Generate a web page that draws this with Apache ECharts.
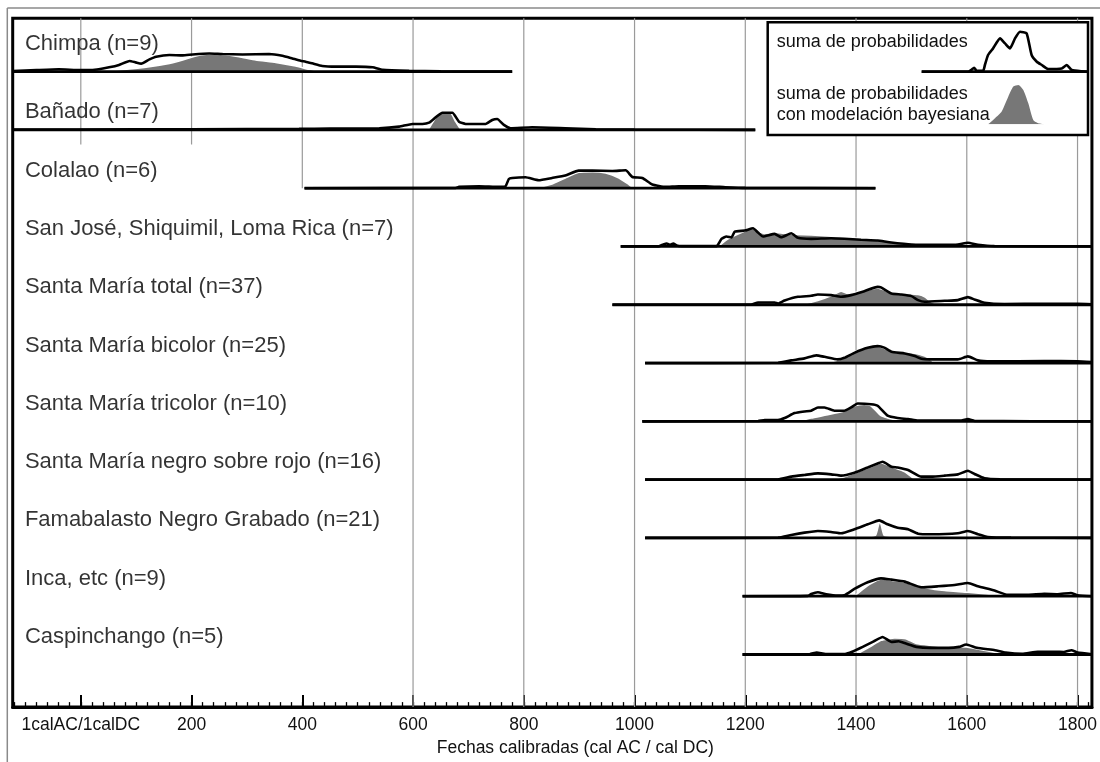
<!DOCTYPE html>
<html>
<head>
<meta charset="utf-8">
<title>Fechas calibradas</title>
<script src="https://cdn.jsdelivr.net/npm/echarts@6/dist/echarts.min.js"></script>
<style>
  html, body { margin: 0; padding: 0; background: #fff; }
  #chart { width: 1100px; height: 762px; }
</style>
</head>
<body>
<div id="chart"></div>
<script>
// nombres de las filas (de arriba a abajo)
var rowNames = [
  'Chimpa (n=9)',
  'Bañado (n=7)',
  'Colalao (n=6)',
  'San José, Shiquimil, Loma Rica (n=7)',
  'Santa María total (n=37)',
  'Santa María bicolor (n=25)',
  'Santa María tricolor (n=10)',
  'Santa María negro sobre rojo (n=16)',
  'Famabalasto Negro Grabado (n=21)',
  'Inca, etc (n=9)',
  'Caspinchango (n=5)'
];

// [año cal, densidad relativa]
var chimpaSum = [[-123,0.5],[-80,1.5],[-40,2.3],[0,1.5],[25,1.8],[51,4.3],[69,6.7],[88,10.7],[99,9.3],[109,8],[124,12.3],[136,15],[160,16.7],[184,16.3],[202,17.3],[232,18.3],[256,17.7],[292,17.3],[340,17.7],[364,16],[382,13.3],[397,11],[406,10],[418,8.3],[436,5.7],[460,5],[497,5],[527,4.3],[545,1.7],[593,0.7],[650,0.3],[779,0]];
var chimpaBayes = [[33,0],[69,1.7],[124,5],[160,8.3],[184,11.7],[208,15.7],[232,17.7],[256,17.3],[286,15],[316,11.7],[352,9.3],[388,5.7],[412,2.3],[430,0.7],[442,0]];

var banadoSum = [[-123,0.3],[100,0.5],[300,0.8],[394,1],[450,1.3],[539,1.7],[575,3.3],[599,6],[617,6],[629,7.3],[641,12.7],[653,17.3],[671,17.3],[683,8.3],[695,6],[731,6],[743,10],[752,11],[764,5],[776,1.7],[815,2.7],[875,1.7],[930,0.7],[1000,0.3],[1218,0]];
var banadoBayes = [[627,0],[638,10],[647,16.7],[668,16.7],[677,8.3],[686,0.7],[688,0]];

var colalaoSum = [[404,0],[677,0.3],[683,1.3],[719,2],[755,1.3],[767,2],[773,9.3],[779,10.3],[803,11],[827,8],[851,10.3],[875,12.7],[899,17.7],[924,17.7],[960,17.3],[984,18],[996,11.3],[1014,10.3],[1032,3.7],[1056,1.3],[1080,2],[1128,2],[1164,1],[1200,0.3],[1435,0]];
var colalaoBayes = [[821,0],[851,4.3],[875,10.3],[899,16],[924,16.7],[948,15.3],[972,10.3],[990,3.7],[999,0]];

var sanJoseSum = [[975,0],[1043,0],[1052,2],[1058,3],[1064,1.5],[1070,3],[1076,1],[1085,0.3],[1148,0.3],[1157,7.7],[1166,10],[1175,9],[1181,15],[1199,16],[1214,18.3],[1223,14],[1232,10],[1253,12.7],[1265,9.3],[1283,13.3],[1295,8.7],[1319,7.7],[1355,8.3],[1379,7.7],[1409,6.7],[1439,6],[1460,4.3],[1500,2],[1560,1.7],[1584,2],[1602,3.7],[1620,1.7],[1650,0.3],[1826,0]];
var sanJoseBayes = [[1151,0],[1169,7.7],[1193,14],[1211,18.3],[1235,13],[1253,14],[1290,12],[1319,11.7],[1379,9.3],[1439,6.7],[1500,1.7],[1530,0]];

var smTotalSum = [[960,0],[1211,0.3],[1223,2.3],[1253,2.3],[1259,1.3],[1271,4.3],[1295,8],[1319,9],[1331,10.3],[1355,9.7],[1373,8],[1391,9.7],[1415,13.7],[1439,18],[1445,17.5],[1464,11.3],[1482,10.3],[1500,8.7],[1512,4.7],[1524,3],[1560,4],[1584,4.7],[1602,7.7],[1614,5.3],[1632,2],[1668,0.7],[1740,1],[1800,1],[1826,0.5]];
var smTotalBayes = [[1300,0],[1331,4.3],[1355,9],[1373,13.7],[1385,11.3],[1403,13],[1427,15.7],[1439,17],[1464,12.3],[1488,11.3],[1512,10.3],[1524,8],[1536,3],[1548,0]];

var smBicolorSum = [[1019,0],[1259,0.3],[1283,2.7],[1307,4.7],[1328,7.7],[1343,6.3],[1367,3.7],[1379,5.3],[1397,10.3],[1421,15.3],[1439,17],[1451,15.5],[1464,11.3],[1488,9.7],[1506,7],[1518,4.3],[1536,3.7],[1584,3.7],[1602,6.7],[1620,2.7],[1644,1.7],[1740,2],[1800,1.7],[1826,1]];
var smBicolorBayes = [[1283,0],[1355,1.5],[1379,5.3],[1391,10.3],[1415,14.7],[1439,17],[1464,12],[1500,10.3],[1524,7],[1536,3],[1542,0]];

var smTricolorSum = [[1014,0],[1223,0.3],[1235,1.3],[1259,1.3],[1271,3.3],[1289,8.3],[1307,10],[1319,10.7],[1331,14],[1343,14],[1361,10.7],[1379,10.7],[1391,14],[1403,18],[1427,17.3],[1439,15.7],[1457,5.7],[1475,3.3],[1494,2.3],[1512,0.7],[1590,0.7],[1602,2.3],[1614,0.5],[1826,0]];
var smTricolorBayes = [[1295,0],[1319,3.3],[1355,7.3],[1379,10.7],[1397,15.7],[1415,17.3],[1427,15.7],[1445,5.7],[1464,2.3],[1500,0.5],[1505,0]];

var smNegroSum = [[1019,0],[1259,0.3],[1283,3],[1307,4.7],[1331,6.3],[1355,5.3],[1373,4],[1397,7],[1421,12.3],[1439,16.3],[1448,18],[1464,13],[1475,12.3],[1494,9.7],[1518,3],[1536,3],[1560,4],[1584,5.3],[1602,9],[1614,5.7],[1632,1.3],[1660,0.3],[1826,0]];
var smNegroBayes = [[1355,0],[1379,3],[1403,8],[1427,13],[1445,17],[1464,13],[1488,8],[1500,3],[1506,0]];

var famabalastoSum = [[1019,0],[1259,0.3],[1283,3],[1307,5.3],[1331,7],[1355,6],[1373,4.7],[1397,8.7],[1421,13.7],[1442,17.7],[1457,13.7],[1475,10.3],[1494,8.7],[1512,4.3],[1536,3.7],[1584,4.7],[1602,7],[1620,3.7],[1638,1],[1680,0.3],[1826,0]];
var famabalastoBayes = [[1391,0],[1420,1.5],[1435,2.5],[1440,12],[1443,17],[1446,12],[1451,2.5],[1475,1],[1490,0]];

var incaSum = [[1195,0],[1313,0.3],[1319,2.3],[1331,4],[1346,2],[1367,0.7],[1379,1],[1397,7.3],[1421,14],[1445,18],[1464,16.7],[1488,14.7],[1518,9],[1548,10],[1578,11.3],[1602,13.3],[1620,10],[1650,5.7],[1674,1.3],[1710,1.3],[1740,2.3],[1764,2],[1788,3.3],[1800,1],[1826,0]];
var incaBayes = [[1397,0],[1421,10.7],[1445,17.3],[1470,15.7],[1494,14],[1530,8],[1560,5.7],[1602,4],[1650,1.5],[1680,0],[1740,0],[1760,1.5],[1790,1.5],[1800,0]];

var caspinchangoSum = [[1195,0],[1316,0.3],[1329,2],[1345,0.5],[1380,0.5],[1393,2.7],[1412,7.7],[1432,13.3],[1448,17.7],[1464,12.7],[1477,13.3],[1490,11],[1509,7.7],[1535,6.7],[1567,6.7],[1586,7.7],[1599,10],[1618,6.7],[1651,4.3],[1670,2],[1700,0.7],[1728,2.7],[1760,2.7],[1775,2.5],[1789,4.3],[1800,2],[1826,0.3]];
var caspinchangoBayes = [[1400,0],[1425,7.7],[1445,14.3],[1470,16.7],[1490,16],[1509,11],[1535,9.3],[1567,7.7],[1599,7.7],[1631,4.3],[1664,1],[1680,0],[1740,0],[1760,1.5],[1790,1.5],[1800,0]];

// inicio y fin de la linea base de cada fila
var rowStart = [-123, -123, 404, 975, 960, 1019, 1014, 1019, 1019, 1195, 1195];
var rowEnd = [779, 1218, 1435, 1826, 1826, 1826, 1826, 1826, 1826, 1826, 1826];

var sumSeries = [chimpaSum, banadoSum, colalaoSum, sanJoseSum, smTotalSum, smBicolorSum, smTricolorSum, smNegroSum, famabalastoSum, incaSum, caspinchangoSum];
var bayesSeries = [chimpaBayes, banadoBayes, colalaoBayes, sanJoseBayes, smTotalBayes, smBicolorBayes, smTricolorBayes, smNegroBayes, famabalastoBayes, incaBayes, caspinchangoBayes];

// muestras de la leyenda (eje 0-100)
var legendSum = [[0,0],[28,0],[30,2],[31.5,4],[33,1],[37,1],[38,6.7],[39.9,16.7],[42.9,23.3],[47.1,33.3],[50.1,28.3],[53.1,23.3],[56.1,33.3],[59.1,40],[63.1,38.3],[66.1,16.7],[69.2,10],[72.2,6.7],[76,2.7],[84.2,3.3],[87.2,6.7],[90.2,1.7],[96.2,0.3],[100,0]];
var legendBayes = [[40,0],[44.1,6],[48.1,12.7],[52.1,27.7],[55.1,37.7],[58.1,39.3],[61.1,34.3],[64.1,21],[67.1,4.3],[70.1,1],[74.1,0]];

var majorTicks = [0, 200, 400, 600, 800, 1000, 1200, 1400, 1600, 1800];
var minorTicks = [];
for (var t = -120; t <= 1820; t += 20) minorTicks.push(t);

var X_MIN = -123, X_MAX = 1826;
var ROW_H = 58.73;          // alto de una fila en px
var Y_MAX = 694 / ROW_H;
var BASE0 = 640.3 / ROW_H;  // linea base de la primera fila
var FONT = "'Liberation Sans', Arial, sans-serif";

function offset(i) { return BASE0 - i; }
function lift(pts, off) {
  return pts.map(function (p) { return [p[0], off + p[1] / ROW_H]; });
}

var series = [];

// lineas verticales de referencia
majorTicks.forEach(function (v) {
  var bottom = 0;
  if (v < 400) bottom = offset(1) - 0.25;
  else if (v === 400) bottom = offset(2);
  series.push({
    type: 'line', silent: true, symbol: 'none', z: 1,
    data: [[v, Y_MAX], [v, bottom]],
    lineStyle: { color: '#9a9a9a', width: 1.2 }
  });
});

rowNames.forEach(function (name, i) {
  var off = offset(i);
  // area gris con borde blanco
  series.push({
    type: 'line', silent: true, symbol: 'none', z: 2, smooth: 0.15,
    data: lift(bayesSeries[i], off),
    lineStyle: { color: '#fff', width: 1.6 },
    areaStyle: { color: '#777', opacity: 1, origin: off }
  });
  series.push({
    type: 'line', silent: true, symbol: 'none', z: 4, smooth: 0.15,
    data: lift(sumSeries[i], off),
    lineStyle: { color: '#000', width: 2.6 }
  });
  series.push({
    type: 'line', silent: true, symbol: 'none', z: 5,
    data: [[rowStart[i], off], [rowEnd[i], off]],
    lineStyle: { color: '#000', width: 2.8 }
  });
});

// etiquetas de fila
series.push({
  type: 'scatter', silent: true, symbolSize: 0, z: 6,
  data: rowNames.map(function (n, i) {
    return { name: n, value: [-101, offset(i) + (i === 0 ? 0.47 : 0.3)] };
  }),
  label: {
    show: true, position: 'right', distance: 0, formatter: '{b}',
    fontSize: 22, color: '#000', fontFamily: FONT
  }
});

// leyenda
series.push({
  type: 'line', xAxisIndex: 2, yAxisIndex: 1, silent: true, symbol: 'none', z: 14, smooth: 0.15,
  data: legendSum, lineStyle: { color: '#000', width: 2.6 }
});
series.push({
  type: 'line', xAxisIndex: 2, yAxisIndex: 1, silent: true, symbol: 'none', z: 15,
  data: [[0, 0], [100, 0]], lineStyle: { color: '#000', width: 2.8 }
});
series.push({
  type: 'line', xAxisIndex: 3, yAxisIndex: 2, silent: true, symbol: 'none', z: 13, smooth: 0.2,
  data: legendBayes, lineStyle: { width: 0, opacity: 0 },
  areaStyle: { color: '#777', opacity: 1, origin: 0 }
});

var chart = echarts.init(document.getElementById('chart'));
chart.setOption({
  animation: false,
  backgroundColor: '#fff',
  grid: [
    { left: 12.7, right: 6.7, top: 18.3, bottom: 50, show: true, borderColor: '#000', borderWidth: 3 },
    { left: 921.7, width: 166.3, top: 25, height: 46.7 },
    { left: 921.7, width: 166.3, top: 80, height: 44.3 }
  ],
  xAxis: [
    {
      type: 'value', gridIndex: 0, min: X_MIN, max: X_MAX, position: 'bottom',
      axisLine: { show: true, lineStyle: { color: '#000', width: 3 } },
      axisTick: { show: true, inside: true, length: 12, customValues: majorTicks, lineStyle: { color: '#000', width: 2 } },
      axisLabel: {
        customValues: majorTicks, margin: 9, fontSize: 17.5, color: '#111', fontFamily: FONT,
        formatter: function (v) { return v === 0 ? '1calAC/1calDC' : String(v); }
      },
      splitLine: { show: false },
      name: 'Fechas calibradas (cal AC / cal DC)', nameLocation: 'middle', nameGap: 30,
      nameTextStyle: { fontSize: 17.5, color: '#111', fontFamily: FONT, padding: [0, 0, 0, 46] }
    },
    {
      type: 'value', gridIndex: 0, min: X_MIN, max: X_MAX, position: 'bottom',
      axisLine: { show: false },
      axisTick: { show: true, inside: true, length: 5, customValues: minorTicks, lineStyle: { color: '#000', width: 1.3 } },
      axisLabel: { show: false },
      splitLine: { show: false }
    },
    { type: 'value', gridIndex: 1, min: 0, max: 100, show: false },
    { type: 'value', gridIndex: 2, min: 0, max: 100, show: false }
  ],
  yAxis: [
    { type: 'value', gridIndex: 0, min: 0, max: Y_MAX, show: false, splitLine: { show: false } },
    { type: 'value', gridIndex: 1, min: 0, max: 46.7, show: false, splitLine: { show: false } },
    { type: 'value', gridIndex: 2, min: 0, max: 44.3, show: false, splitLine: { show: false } }
  ],
  graphic: [
    { type: 'line', z: 20, shape: { x1: 7.3, y1: 8, x2: 1100, y2: 8 }, style: { stroke: '#8a8a8a', lineWidth: 1.5 } },
    { type: 'line', z: 20, shape: { x1: 7.3, y1: 8, x2: 7.3, y2: 762 }, style: { stroke: '#8a8a8a', lineWidth: 1.5 } },
    { type: 'rect', z: 10, shape: { x: 767.7, y: 22.3, width: 320.3, height: 112.7 }, style: { fill: '#fff', stroke: '#000', lineWidth: 2.5 } },
    { type: 'text', z: 11, style: { text: 'suma de probabilidades', x: 776.7, y: 41.7, font: '18px ' + FONT, fill: '#111', verticalAlign: 'middle', textVerticalAlign: 'middle' } },
    { type: 'text', z: 11, style: { text: 'suma de probabilidades', x: 776.7, y: 94.3, font: '18px ' + FONT, fill: '#111', verticalAlign: 'middle', textVerticalAlign: 'middle' } },
    { type: 'text', z: 11, style: { text: 'con modelación bayesiana', x: 776.7, y: 115, font: '18px ' + FONT, fill: '#111', verticalAlign: 'middle', textVerticalAlign: 'middle' } }
  ],
  series: series
});
</script>
</body>
</html>
